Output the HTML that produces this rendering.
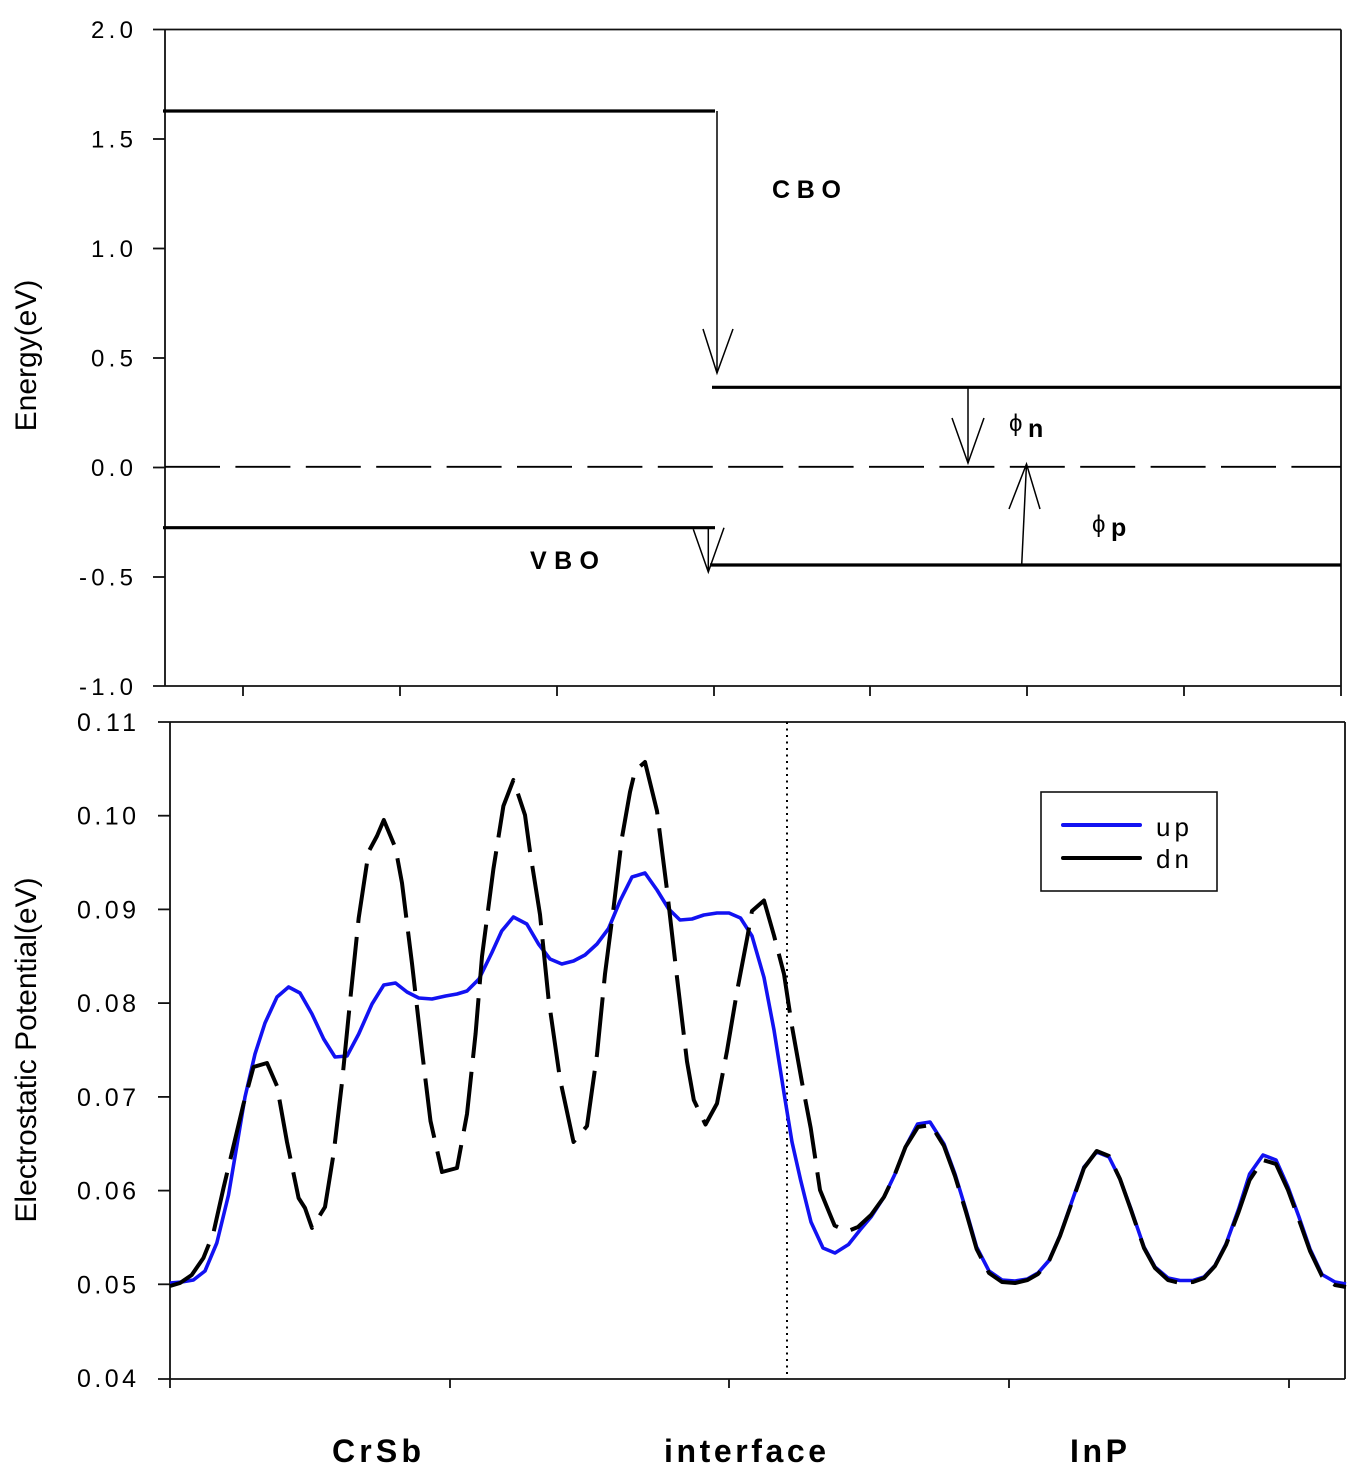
<!DOCTYPE html>
<html>
<head>
<meta charset="utf-8">
<style>
html,body{margin:0;padding:0;background:#fff;}
svg{display:block;}
text{font-family:"Liberation Sans",Arial,sans-serif;fill:#000;}
</style>
</head>
<body>
<svg width="1351" height="1474" viewBox="0 0 1351 1474" xmlns="http://www.w3.org/2000/svg">
<rect x="0" y="0" width="1351" height="1474" fill="#fff"/>

<!-- ================= TOP PANEL ================= -->
<g stroke="#111" stroke-width="1.8" fill="none">
  <line x1="165" y1="29.5" x2="165" y2="686"/>
  <line x1="153" y1="29.5" x2="1341" y2="29.5"/>
  <line x1="1341" y1="29.5" x2="1341" y2="696"/>
  <line x1="153" y1="686" x2="1341" y2="686"/>
  <line x1="153" y1="139" x2="165" y2="139"/>
  <line x1="153" y1="248.5" x2="165" y2="248.5"/>
  <line x1="153" y1="358" x2="165" y2="358"/>
  <line x1="153" y1="467.5" x2="165" y2="467.5"/>
  <line x1="153" y1="577" x2="165" y2="577"/>
  <line x1="243" y1="686" x2="243" y2="696"/>
  <line x1="400" y1="686" x2="400" y2="696"/>
  <line x1="557" y1="686" x2="557" y2="696"/>
  <line x1="714" y1="686" x2="714" y2="696"/>
  <line x1="870" y1="686" x2="870" y2="696"/>
  <line x1="1027" y1="686" x2="1027" y2="696"/>
  <line x1="1184" y1="686" x2="1184" y2="696"/>
</g>
<g font-size="24">
  <text x="91" y="38" textLength="42" lengthAdjust="spacing">2.0</text>
  <text x="91" y="147.5" textLength="42" lengthAdjust="spacing">1.5</text>
  <text x="91" y="257" textLength="42" lengthAdjust="spacing">1.0</text>
  <text x="91" y="366.5" textLength="42" lengthAdjust="spacing">0.5</text>
  <text x="91" y="476" textLength="42" lengthAdjust="spacing">0.0</text>
  <text x="79" y="585.5" textLength="54" lengthAdjust="spacing">-0.5</text>
  <text x="79" y="695" textLength="54" lengthAdjust="spacing">-1.0</text>
</g>
<text transform="translate(36,355.5) rotate(-90)" text-anchor="middle" font-size="30">Energy(eV)</text>

<g stroke="#000" stroke-width="3.2" fill="none">
  <line x1="163" y1="111" x2="715" y2="111"/>
  <line x1="712" y1="387.3" x2="1341" y2="387.3"/>
  <line x1="163" y1="527.7" x2="715" y2="527.7"/>
  <line x1="710" y1="565" x2="1341" y2="565"/>
</g>
<line x1="165" y1="466.8" x2="1341" y2="466.8" stroke="#000" stroke-width="1.8" stroke-dasharray="55 15.4"/>
<g stroke="#000" stroke-width="1.5" fill="none">
  <line x1="717" y1="111" x2="717" y2="373"/>
  <polyline points="703,329 717,373 733,329"/>
  <line x1="968" y1="387" x2="968" y2="463"/>
  <polyline points="952,418 968,463 984,418"/>
  <line x1="1021.7" y1="565" x2="1026.5" y2="464"/>
  <polyline points="1009,509 1026.5,464 1040,509"/>
  <line x1="708.3" y1="527.7" x2="708.3" y2="572"/>
  <polyline points="693.3,529.3 708.3,572 724,527.7"/>
</g>
<text x="772" y="198" font-size="25" font-weight="bold" textLength="69" lengthAdjust="spacing">CBO</text>
<text x="530" y="569" font-size="25" font-weight="bold" textLength="69" lengthAdjust="spacing">VBO</text>
<text x="1009" y="431" font-size="24" font-family="'DejaVu Sans','Liberation Sans',sans-serif">ϕ</text>
<text x="1028" y="437" font-size="25" font-weight="bold">n</text>
<text x="1092" y="532" font-size="24" font-family="'DejaVu Sans','Liberation Sans',sans-serif">ϕ</text>
<text x="1111" y="536" font-size="25" font-weight="bold">p</text>

<!-- ================= BOTTOM PANEL ================= -->
<g stroke="#111" stroke-width="1.8" fill="none">
  <line x1="170" y1="722" x2="170" y2="1388"/>
  <line x1="158" y1="722" x2="1345" y2="722"/>
  <line x1="1345" y1="722" x2="1345" y2="1379"/>
  <line x1="158" y1="1379" x2="1345" y2="1379"/>
  <line x1="158" y1="815.7" x2="170" y2="815.7"/>
  <line x1="158" y1="909.4" x2="170" y2="909.4"/>
  <line x1="158" y1="1003.1" x2="170" y2="1003.1"/>
  <line x1="158" y1="1096.9" x2="170" y2="1096.9"/>
  <line x1="158" y1="1190.6" x2="170" y2="1190.6"/>
  <line x1="158" y1="1284.3" x2="170" y2="1284.3"/>
  <line x1="450" y1="1379" x2="450" y2="1388"/>
  <line x1="729" y1="1379" x2="729" y2="1388"/>
  <line x1="1009" y1="1379" x2="1009" y2="1388"/>
  <line x1="1289" y1="1379" x2="1289" y2="1388"/>
</g>
<g font-size="25">
  <text x="77" y="731" textLength="59" lengthAdjust="spacing">0.11</text>
  <text x="77" y="824.7" textLength="59" lengthAdjust="spacing">0.10</text>
  <text x="77" y="918.4" textLength="59" lengthAdjust="spacing">0.09</text>
  <text x="77" y="1012.1" textLength="59" lengthAdjust="spacing">0.08</text>
  <text x="77" y="1105.9" textLength="59" lengthAdjust="spacing">0.07</text>
  <text x="77" y="1199.6" textLength="59" lengthAdjust="spacing">0.06</text>
  <text x="77" y="1293.3" textLength="59" lengthAdjust="spacing">0.05</text>
  <text x="77" y="1387" textLength="59" lengthAdjust="spacing">0.04</text>
</g>
<text transform="translate(36,1050) rotate(-90)" text-anchor="middle" font-size="30">Electrostatic Potential(eV)</text>

<line x1="787" y1="722" x2="787" y2="1379" stroke="#000" stroke-width="2" stroke-dasharray="2 4.5"/>

<polyline fill="none" stroke="#1212f2" stroke-width="3.6" stroke-linejoin="round" points="170,1283 181.7,1282 193.4,1280 205,1271 216.8,1243 228.5,1195 236.8,1146 245,1097 255,1054 265,1023 277,997 288.6,987 300,993 312,1014 323.7,1039 335,1057 347,1056 358.7,1034 372,1004 383.8,985 395.5,983 407,992 418.8,998 432,999 445.6,996 457,994 467,991 479,979 491.7,953 501.7,931 513.4,917 526.8,924 538.5,944 550,959 561.8,964 573.5,961 585,955 597,944 608.6,928.5 620,901 632,877 645,873 657,890 668.7,909 680,920 692,919 703.8,915 717,913 729,913 740.5,918 752,936 764,977.5 774,1030 784,1093 792,1142 800.6,1180 811,1222 823,1248 835,1253 848.5,1244.5 860,1230 871,1217 884,1197 895,1174 905.5,1147 917.6,1124 930,1122 944,1144 955,1174 966,1210 976.6,1247 989,1271 1002,1280 1015,1281 1027.5,1279 1038,1273 1049,1260.5 1060,1235.5 1071,1204 1084,1167 1096.7,1152 1109,1157 1120,1179 1131,1209 1144,1247 1155,1267 1168,1278 1180,1280.5 1193,1280.5 1204,1277 1215,1265.5 1226,1244 1238.6,1209 1249.6,1174 1263,1155 1276,1160 1288,1187 1299,1217 1310,1249 1322,1274.5 1335,1282 1346,1284"/>

<polyline fill="none" stroke="#000" stroke-width="4" stroke-linejoin="round" stroke-dasharray="60 14" points="170,1286 180,1283 191.7,1275 203.4,1258 213.4,1233 223.5,1188 233.5,1146 243.5,1104 253.5,1067 267,1063 277,1086 287,1142 298.6,1198 305,1208 312,1228 325,1207 333.7,1153 342,1082.5 350,1002 358.7,918 368.7,851.5 377,836 383.8,820 395.5,848 402,883 412,963.5 422,1051 430.5,1121 442,1172 457,1168 467,1114 475.6,1033.5 482,956.5 493.4,869 503.4,806 513.4,780 525,815 530,851.5 540,914.5 548.5,998.5 560,1079 573.5,1142 587,1126 597,1054.5 605,974 613.6,907.5 622,837.5 630,792 635,771 645,762 657,811 667,890 677,977.5 687,1061.5 693.8,1100 705.5,1124.5 717,1103.5 727,1051 737,991.5 747,939 752,911 764,900.5 774,935.5 784,974 792,1026.5 802,1082.5 810.7,1128 820,1190 829,1212 834.6,1225.5 847,1231.5 858,1227 871,1215 884,1197 895,1174 905.5,1147 918,1127 931,1125 944,1146 955,1176 966,1212 976.6,1249 989,1273 1002,1282 1015,1283 1027.5,1280 1038,1274 1049,1261 1060,1236 1071,1205 1084,1168 1096.7,1151 1109,1156 1120,1179 1131,1210 1144,1248 1155,1268 1168,1280 1180,1283 1193,1282 1204,1278 1215,1266 1226,1245 1238.6,1212 1249.6,1180 1263,1160 1276,1164 1288,1190 1299,1220 1310,1251 1322,1276 1335,1285 1346,1287"/>

<rect x="1041" y="792" width="176" height="99" fill="#fff" stroke="#111" stroke-width="1.6"/>
<line x1="1063" y1="825" x2="1140" y2="825" stroke="#1212f2" stroke-width="4" stroke-linecap="round"/>
<line x1="1063" y1="858" x2="1140" y2="858" stroke="#000" stroke-width="4" stroke-linecap="round"/>
<text x="1156" y="836" font-size="26" textLength="33" lengthAdjust="spacing">up</text>
<text x="1156" y="868" font-size="26" textLength="33" lengthAdjust="spacing">dn</text>

<text x="332" y="1462" font-size="32" font-weight="bold" textLength="89" lengthAdjust="spacing">CrSb</text>
<text x="664" y="1462" font-size="32" font-weight="bold" textLength="162" lengthAdjust="spacing">interface</text>
<text x="1070" y="1462" font-size="32" font-weight="bold" textLength="57" lengthAdjust="spacing">InP</text>
</svg>
</body>
</html>
